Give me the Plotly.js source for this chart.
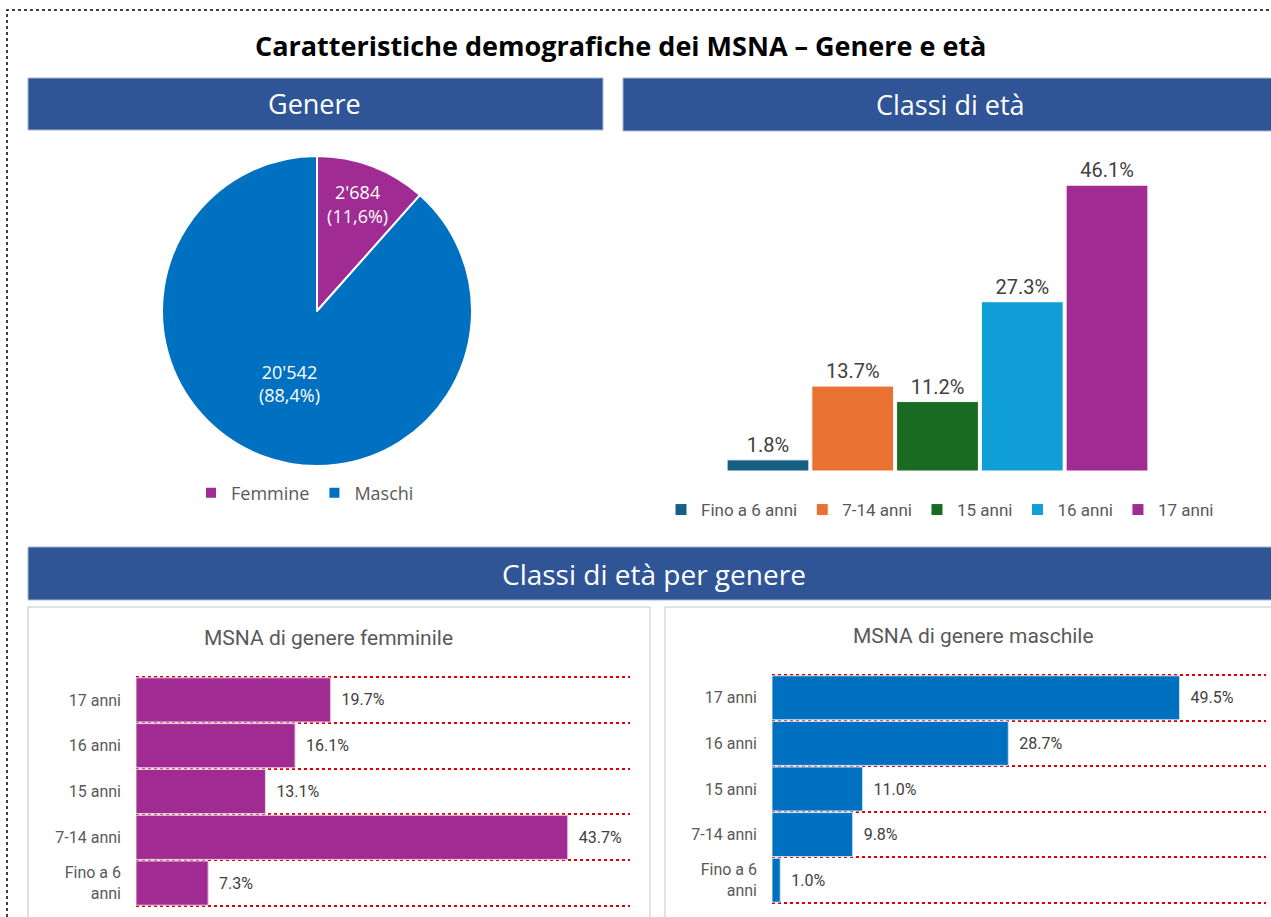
<!DOCTYPE html>
<html>
<head>
<meta charset="utf-8">
<script src="https://cdn.plot.ly/plotly-3.0.1.min.js"></script>
<style>
html,body{margin:0;padding:0;overflow:hidden;background:#fff;}
#chart{width:1271px;height:917px;}
</style>
</head>
<body>
<div id="chart"></div>
<script>
// ---- data ----
const genderLabels = ["Femmine", "Maschi"];
const genderCounts = [2684, 20542];
const genderText = ["2'684<br>(11,6%)", "20'542<br>(88,4%)"];
const genderColors = ["#A02B93", "#0070C0"];

const ageClasses = ["Fino a 6 anni", "7-14 anni", "15 anni", "16 anni", "17 anni"];
const ageTickText = ["Fino a 6<br>anni", "7-14 anni", "15 anni", "16 anni", "17 anni"];
const agePct = [1.8, 13.7, 11.2, 27.3, 46.1];
const ageColors = ["#156082", "#E97132", "#196B24", "#0F9ED5", "#A02B93"];

const femalePct = [7.3, 43.7, 13.1, 16.1, 19.7];
const malePct = [1.0, 9.8, 11.0, 28.7, 49.5];

// ---- geometry helpers ----
const W = 1271, H = 917;
const X = p => p / W;
const Y = p => 1 - p / H;

const headFont = "'Open Sans', Lato, sans-serif";
const barFont = "Roboto, 'Noto Sans', sans-serif";
const narrowFont = "'Liberation Sans Narrow', 'Arial Narrow', Roboto, sans-serif";
const NB = "\u00A0\u00A0";

const traces = [];

traces.push({
  type: "pie",
  labels: genderLabels,
  values: genderCounts,
  text: genderText,
  textinfo: "text",
  textposition: "inside",
  insidetextorientation: "horizontal",
  sort: false,
  direction: "clockwise",
  rotation: 0,
  marker: {colors: genderColors, line: {color: "#ffffff", width: 2}},
  textfont: {family: headFont, size: 18, color: "#ffffff"},
  domain: {x: [X(162), X(472)], y: [Y(466), Y(156)]},
  legend: "legend2",
  hoverinfo: "label+value"
});

ageClasses.forEach((c, i) => {
  traces.push({
    type: "bar",
    x: [c],
    y: [agePct[i]],
    name: c,
    marker: {color: ageColors[i], line: {color: "#ffffff", width: 1}},
    text: [agePct[i].toFixed(1) + "%"],
    textposition: "outside",
    cliponaxis: false,
    textfont: {family: barFont, size: 20, color: "#404040"},
    xaxis: "x", yaxis: "y",
    legend: "legend"
  });
});

traces.push({
  type: "bar",
  orientation: "h",
  y: ageClasses,
  x: femalePct,
  marker: {color: "#A02B93", line: {color: "#e6d0e3", width: 1}},
  text: femalePct.map(v => NB + v.toFixed(1) + "%"),
  textposition: "outside",
  cliponaxis: false,
  textfont: {family: narrowFont, size: 16, color: "#404040"},
  xaxis: "x2", yaxis: "y2",
  showlegend: false
});

traces.push({
  type: "bar",
  orientation: "h",
  y: ageClasses,
  x: malePct,
  marker: {color: "#0070C0", line: {color: "#cfe0f0", width: 1}},
  text: malePct.map(v => NB + v.toFixed(1) + "%"),
  textposition: "outside",
  cliponaxis: false,
  textfont: {family: narrowFont, size: 16, color: "#404040"},
  xaxis: "x3", yaxis: "y3",
  showlegend: false
});

const hAxisY = (d) => ({
  domain: d,
  type: "category",
  categoryarray: ageClasses,
  categoryorder: "array",
  tickvals: ageClasses,
  ticktext: ageTickText,
  range: [-0.5, 4.5],
  tickson: "boundaries",
  showgrid: true,
  gridcolor: "#E00000",
  griddash: "dot",
  gridwidth: 2,
  ticks: "",
  showline: false,
  zeroline: false,
  ticklabelstandoff: 14,
  tickfont: {family: narrowFont, size: 16, color: "#595959"},
  fixedrange: true
});

const hAxisX = (d, r) => ({
  domain: d, range: r, visible: false, showgrid: false, zeroline: false, fixedrange: true
});

const headerRect = (x0, y0, x1, y1) => ({
  type: "rect", xref: "paper", yref: "paper",
  x0: X(x0), x1: X(x1), y0: Y(y1), y1: Y(y0),
  fillcolor: "#2F5597", line: {color: "#A9B7D1", width: 1}, layer: "below"
});

const boxRect = (x0, y0, x1, y1) => ({
  type: "rect", xref: "paper", yref: "paper",
  x0: X(x0), x1: X(x1), y0: Y(y1), y1: Y(y0),
  fillcolor: "rgba(0,0,0,0)", line: {color: "#D9D9D9", width: 1.5}, layer: "below"
});

// outer category boundaries (top and bottom) of the horizontal charts
const edgeLine = (ax, yv) => ({
  type: "line", xref: ax[0] + " domain", yref: ax[1] + " domain",
  x0: 0, x1: 1, y0: yv, y1: yv,
  line: {color: "#E00000", width: 2, dash: "dot"}, layer: "below"
});

const ann = (x, y, text, size, color, family, bold) => ({
  xref: "paper", yref: "paper", x: X(x), y: Y(y),
  xanchor: "center", yanchor: "middle", showarrow: false,
  text: bold ? "<b>" + text + "</b>" : text,
  font: {family: family, size: size, color: color}
});

const layout = {
  width: W, height: H,
  margin: {l: 0, r: 0, t: 0, b: 0},
  paper_bgcolor: "#ffffff",
  plot_bgcolor: "rgba(0,0,0,0)",
  barmode: "overlay",
  bargap: 0.035,
  showlegend: true,
  xaxis: {
    domain: [X(725.6), X(1149.4)], type: "category", range: [-0.5, 4.5],
    showticklabels: false, showgrid: false, zeroline: false, showline: false, ticks: "", fixedrange: true
  },
  yaxis: {domain: [Y(471), Y(161)], range: [0, 50], visible: false, showgrid: false, zeroline: false, fixedrange: true},
  xaxis2: Object.assign(hAxisX([X(136), X(630)], [0, 50]), {anchor: "y2"}),
  yaxis2: Object.assign(hAxisY([Y(906), Y(677)]), {anchor: "x2"}),
  xaxis3: Object.assign(hAxisX([X(772), X(1266)], [0, 60]), {anchor: "y3"}),
  yaxis3: Object.assign(hAxisY([Y(903), Y(675)]), {anchor: "x3"}),
  legend: {
    orientation: "h", x: X(940), xanchor: "center", y: Y(510), yanchor: "middle",
    font: {family: barFont, size: 17, color: "#595959"}, bgcolor: "rgba(0,0,0,0)",
    itemwidth: 30, traceorder: "normal"
  },
  legend2: {
    orientation: "h", x: X(305), xanchor: "center", y: Y(493), yanchor: "middle",
    font: {family: headFont, size: 18, color: "#595959"}, bgcolor: "rgba(0,0,0,0)",
    itemwidth: 30
  },
  shapes: [
    {type: "rect", xref: "paper", yref: "paper", x0: X(7), x1: 1.05, y0: -0.05, y1: Y(10),
     line: {color: "#000000", width: 1.5, dash: "dot"}, fillcolor: "rgba(0,0,0,0)", layer: "below"},
    headerRect(28, 78, 603, 130),
    headerRect(623, 78, 1290, 131),
    headerRect(28, 547, 1290, 600),
    boxRect(28, 607, 650, 930),
    boxRect(665, 607, 1290, 930),
    edgeLine(["x2", "y2"], 0), edgeLine(["x2", "y2"], 1),
    edgeLine(["x3", "y3"], 0), edgeLine(["x3", "y3"], 1)
  ],
  annotations: [
    ann(620, 45, "Caratteristiche demografiche dei MSNA – Genere e età", 27, "#000000", headFont, true),
    ann(314, 104, "Genere", 27, "#ffffff", headFont, false),
    ann(951, 105, "Classi di età", 27, "#ffffff", headFont, false),
    ann(654, 574, "Classi di età per genere", 28, "#ffffff", headFont, false),
    ann(328, 638, "MSNA di genere femminile", 21, "#595959", narrowFont, false),
    ann(973, 636, "MSNA di genere maschile", 21, "#595959", narrowFont, false)
  ]
};

Plotly.newPlot("chart", traces, layout, {displayModeBar: false, staticPlot: true});
</script>
</body>
</html>
